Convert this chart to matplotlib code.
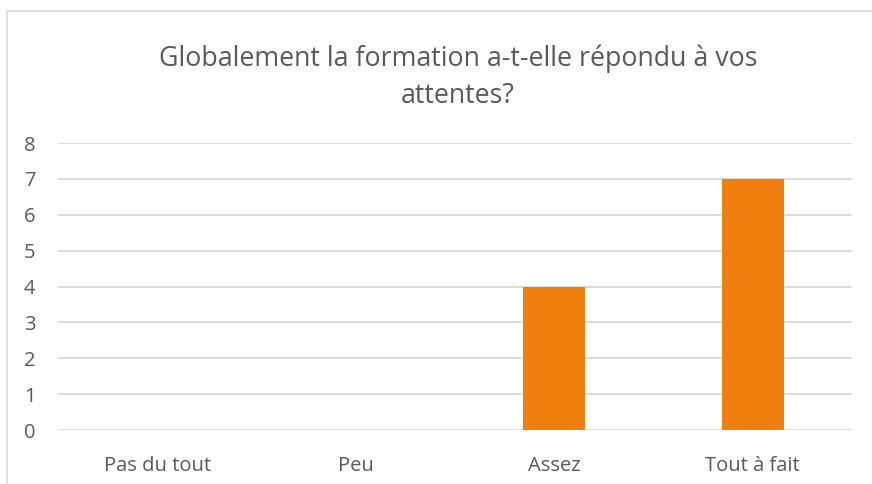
import matplotlib.pyplot as plt
from matplotlib.lines import Line2D

categories = ["Pas du tout", "Peu", "Assez", "Tout à fait"]
values = [0, 0, 4, 7]
title = "Globalement la formation a-t-elle répondu à vos\nattentes?"

plt.rcParams['font.family'] = ['Open Sans', 'DejaVu Sans']
txt = '#595959'

W, H = 872, 484
fig = plt.figure(figsize=(W / 100, H / 100), dpi=100)
ax = fig.add_axes([58 / W, 1 - 430 / H, (852 - 58) / W, (430 - 143) / H])

x = range(len(categories))
ax.bar(x, values, width=0.31, color='#F0800D', zorder=3)

ax.set_xlim(-0.5, len(categories) - 0.5)
ax.set_ylim(0, 8)
ax.set_yticks(range(0, 9))
ax.set_xticks(list(x))
ax.set_xticklabels(categories)
ax.grid(axis='y', color='#d9d9d9', linewidth=1.3, zorder=0)
for s in ax.spines.values():
    s.set_visible(False)
ax.tick_params(length=0, labelsize=14.5, colors=txt)
ax.tick_params(axis='x', pad=19)
for lab in ax.get_yticklabels():
    lab.set_horizontalalignment('left')
    lab.set_x(-34 / (852 - 58))
    lab.set_transform(ax.get_yaxis_transform())

fig.text(458 / W, 1 - 77 / H, title, ha='center', va='center', fontsize=19.3,
         color=txt, linespacing=1.45)

# chart frame (left and top edges only visible in the crop)
fig.add_artist(Line2D([6.5 / W, 6.5 / W], [0, 1 - 11 / H], color='#d9d9d9', lw=1.2))
fig.add_artist(Line2D([6.5 / W, 1], [1 - 11 / H, 1 - 11 / H], color='#d9d9d9', lw=1.2))

fig.savefig('out.png', dpi=100)
